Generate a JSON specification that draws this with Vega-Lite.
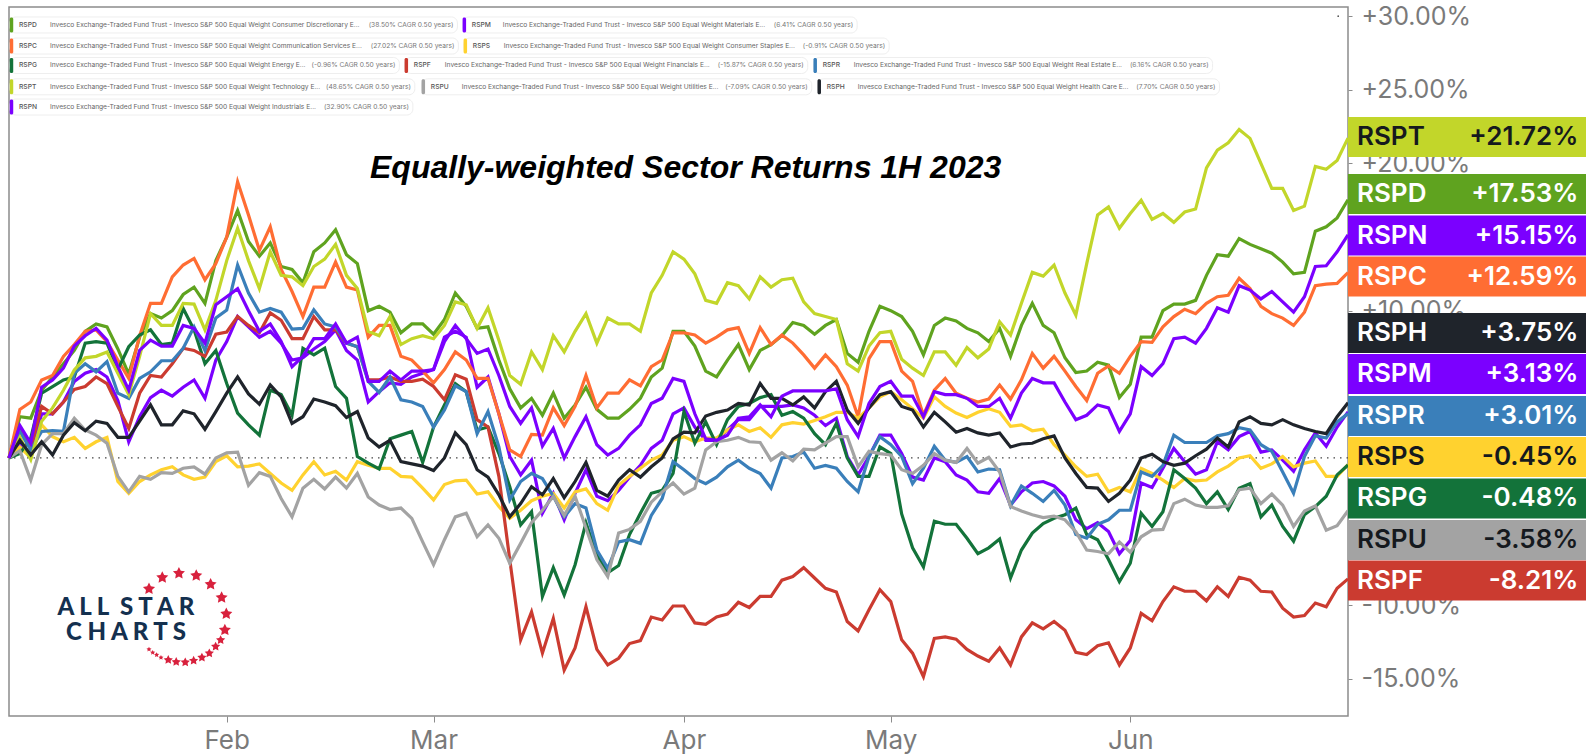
{"$schema":"https://vega.github.io/schema/vega-lite/v6.json","width":1339,"height":709,"autosize":{"type":"none"},"padding":{"left":9,"top":7,"right":238,"bottom":38},"background":"white","config":{"view":{"stroke":"#8c8c8c","strokeWidth":1.5},"font":"Inter"},
"title":{"text":"Equally-weighted Sector Returns 1H 2023","font":"Liberation Sans","fontWeight":"bold","fontStyle":"italic","fontSize":32,"color":"#000000","anchor":"start","frame":"group","baseline":"alphabetic","offset":-206,"dx":361},
"datasets":{
"series":[
{"day":0,"RSPD":0,"RSPM":0,"RSPC":0,"RSPS":0,"RSPG":0,"RSPF":0,"RSPR":0,"RSPT":0,"RSPU":0,"RSPH":0,"RSPN":0},
{"day":1,"RSPD":2.8,"RSPM":1.0,"RSPC":3.3,"RSPS":0.75,"RSPG":0.3,"RSPF":2.1,"RSPR":1.8,"RSPT":1.4,"RSPU":0.5,"RSPH":1.2,"RSPN":2.2},
{"day":2,"RSPD":2.7,"RSPM":0.2,"RSPC":3.8,"RSPS":0,"RSPG":1.35,"RSPF":0.75,"RSPR":0.55,"RSPT":-0.1,"RSPU":-1.5,"RSPH":0.2,"RSPN":1.0},
{"day":3,"RSPD":4.6,"RSPM":3.0,"RSPC":5.3,"RSPS":2.25,"RSPG":4.4,"RSPF":3.5,"RSPR":1.8,"RSPT":2.5,"RSPU":0.9,"RSPH":1.1,"RSPN":4.8},
{"day":4,"RSPD":5.5,"RSPM":3.0,"RSPC":5.6,"RSPS":1.45,"RSPG":4.85,"RSPF":3.0,"RSPR":1.85,"RSPT":3.4,"RSPU":1.65,"RSPH":0.2,"RSPN":5.3},
{"day":5,"RSPD":6.4,"RSPM":3.8,"RSPC":6.9,"RSPS":1.1,"RSPG":5.3,"RSPF":3.8,"RSPR":1.8,"RSPT":4.6,"RSPU":1.65,"RSPH":1.55,"RSPN":6.1},
{"day":6,"RSPD":7.3,"RSPM":5.2,"RSPC":7.7,"RSPS":1.4,"RSPG":5.5,"RSPF":4.65,"RSPR":5.75,"RSPT":5.97,"RSPU":2.7,"RSPH":2.4,"RSPN":7.6},
{"day":7,"RSPD":8.6,"RSPM":5.75,"RSPC":8.6,"RSPS":0.65,"RSPG":7.8,"RSPF":4.85,"RSPR":6.4,"RSPT":6.8,"RSPU":1.9,"RSPH":1.85,"RSPN":8.3},
{"day":8,"RSPD":9.1,"RSPM":6.0,"RSPC":8.7,"RSPS":1.1,"RSPG":7.9,"RSPF":5.5,"RSPR":5.85,"RSPT":6.9,"RSPU":1.55,"RSPH":2.5,"RSPN":8.8},
{"day":9,"RSPD":8.9,"RSPM":5.5,"RSPC":7.9,"RSPS":1.4,"RSPG":7.8,"RSPF":5.05,"RSPR":6.55,"RSPT":7.2,"RSPU":1.0,"RSPH":2.35,"RSPN":8.0},
{"day":10,"RSPD":7.4,"RSPM":3.9,"RSPC":6.65,"RSPS":-1.6,"RSPG":6.0,"RSPF":3.5,"RSPR":4.4,"RSPT":5.75,"RSPU":-1.25,"RSPH":1.4,"RSPN":6.2},
{"day":11,"RSPD":5.7,"RSPM":1.1,"RSPC":5.4,"RSPS":-2.4,"RSPG":7.55,"RSPF":2.0,"RSPR":4.05,"RSPT":4.3,"RSPU":-2.3,"RSPH":1.4,"RSPN":4.6},
{"day":12,"RSPD":8.2,"RSPM":2.8,"RSPC":8.3,"RSPS":-1.6,"RSPG":8.35,"RSPF":4.4,"RSPR":5.4,"RSPT":6.9,"RSPU":-1.25,"RSPH":2.5,"RSPN":7.3},
{"day":13,"RSPD":9.8,"RSPM":4.1,"RSPC":10.5,"RSPS":-1.15,"RSPG":8.7,"RSPF":5.6,"RSPR":5.85,"RSPT":9.8,"RSPU":-1.45,"RSPH":3.6,"RSPN":8.0},
{"day":14,"RSPD":9.5,"RSPM":4.6,"RSPC":10.5,"RSPS":-0.8,"RSPG":7.7,"RSPF":5.5,"RSPR":6.6,"RSPT":9.0,"RSPU":-1.0,"RSPH":2.25,"RSPN":7.6},
{"day":15,"RSPD":10.0,"RSPM":4.2,"RSPC":12.3,"RSPS":-0.6,"RSPG":7.8,"RSPF":6.4,"RSPR":6.6,"RSPT":9.0,"RSPU":-1.05,"RSPH":2.25,"RSPN":7.6},
{"day":16,"RSPD":11.1,"RSPM":4.8,"RSPC":13.1,"RSPS":-1.15,"RSPG":10.15,"RSPF":7.45,"RSPR":7.45,"RSPT":10.5,"RSPU":-0.7,"RSPH":3.2,"RSPN":9.0},
{"day":17,"RSPD":11.6,"RSPM":5.3,"RSPC":13.55,"RSPS":-1.45,"RSPG":8.7,"RSPF":7.3,"RSPR":8.9,"RSPT":10.45,"RSPU":-0.6,"RSPH":3.0,"RSPN":8.8},
{"day":18,"RSPD":10.5,"RSPM":4.05,"RSPC":12.1,"RSPS":-1.3,"RSPG":6.4,"RSPF":6.9,"RSPR":7.3,"RSPT":8.7,"RSPU":-1.1,"RSPH":1.95,"RSPN":7.8},
{"day":19,"RSPD":13.4,"RSPM":6.65,"RSPC":13.2,"RSPS":-0.25,"RSPG":7.3,"RSPF":8.4,"RSPR":9.5,"RSPT":10.7,"RSPU":0,"RSPH":3.15,"RSPN":10.4},
{"day":20,"RSPD":15.0,"RSPM":7.9,"RSPC":15.0,"RSPS":0.15,"RSPG":5.05,"RSPF":8.55,"RSPR":10.05,"RSPT":13.4,"RSPU":0.35,"RSPH":4.4,"RSPN":10.95},
{"day":21,"RSPD":16.8,"RSPM":9.6,"RSPC":18.75,"RSPS":-0.6,"RSPG":3.05,"RSPF":9.6,"RSPR":13.1,"RSPT":15.6,"RSPU":0.4,"RSPH":5.5,"RSPN":11.5},
{"day":22,"RSPD":14.7,"RSPM":8.9,"RSPC":16.5,"RSPS":-0.55,"RSPG":2.25,"RSPF":9.0,"RSPR":11.2,"RSPT":13.4,"RSPU":-1.85,"RSPH":4.35,"RSPN":10.0},
{"day":23,"RSPD":13.7,"RSPM":8.2,"RSPC":14.1,"RSPS":-0.4,"RSPG":1.55,"RSPF":8.5,"RSPR":9.9,"RSPT":11.5,"RSPU":-1.0,"RSPH":3.65,"RSPN":8.6},
{"day":24,"RSPD":14.6,"RSPM":8.6,"RSPC":15.7,"RSPS":-1.05,"RSPG":4.6,"RSPF":9.85,"RSPR":10.15,"RSPT":14.0,"RSPU":-1.25,"RSPH":4.95,"RSPN":9.1},
{"day":25,"RSPD":13.0,"RSPM":7.8,"RSPC":12.8,"RSPS":-1.7,"RSPG":4.3,"RSPF":9.35,"RSPR":9.9,"RSPT":12.4,"RSPU":-2.75,"RSPH":4.15,"RSPN":7.9},
{"day":26,"RSPD":12.8,"RSPM":6.65,"RSPC":11.3,"RSPS":-2.2,"RSPG":2.9,"RSPF":8.1,"RSPR":8.75,"RSPT":12.3,"RSPU":-4.0,"RSPH":2.35,"RSPN":6.2},
{"day":27,"RSPD":11.9,"RSPM":6.8,"RSPC":9.6,"RSPS":-1.15,"RSPG":7.45,"RSPF":8.1,"RSPR":8.8,"RSPT":11.7,"RSPU":-2.05,"RSPH":2.8,"RSPN":6.9},
{"day":28,"RSPD":14.0,"RSPM":7.4,"RSPC":11.6,"RSPS":-0.25,"RSPG":7.0,"RSPF":9.6,"RSPR":10.05,"RSPT":13.0,"RSPU":-1.45,"RSPH":4.0,"RSPN":8.1},
{"day":29,"RSPD":14.6,"RSPM":7.9,"RSPC":11.6,"RSPS":-1.15,"RSPG":7.45,"RSPF":8.7,"RSPR":9.1,"RSPT":13.5,"RSPU":-2.1,"RSPH":3.8,"RSPN":8.1},
{"day":30,"RSPD":15.5,"RSPM":8.7,"RSPC":13.3,"RSPS":-0.9,"RSPG":4.85,"RSPF":8.7,"RSPR":8.9,"RSPT":14.5,"RSPU":-1.3,"RSPH":3.55,"RSPN":9.1},
{"day":31,"RSPD":13.8,"RSPM":7.3,"RSPC":11.6,"RSPS":-1.5,"RSPG":4.05,"RSPF":7.8,"RSPR":7.8,"RSPT":12.4,"RSPU":-2.05,"RSPH":2.75,"RSPN":7.8},
{"day":32,"RSPD":13.2,"RSPM":6.65,"RSPC":11.4,"RSPS":-0.25,"RSPG":0.1,"RSPF":7.55,"RSPR":7.55,"RSPT":11.5,"RSPU":-1.05,"RSPH":3.15,"RSPN":8.2},
{"day":33,"RSPD":10.0,"RSPM":3.8,"RSPC":8.2,"RSPS":-0.5,"RSPG":-0.35,"RSPF":5.3,"RSPR":5.2,"RSPT":8.6,"RSPU":-2.65,"RSPH":1.35,"RSPN":5.2},
{"day":34,"RSPD":10.3,"RSPM":4.5,"RSPC":9.0,"RSPS":-0.7,"RSPG":-0.75,"RSPF":5.3,"RSPR":4.45,"RSPT":8.3,"RSPU":-3.2,"RSPH":0.75,"RSPN":5.2},
{"day":35,"RSPD":9.9,"RSPM":5.1,"RSPC":9.0,"RSPS":-0.7,"RSPG":1.3,"RSPF":5.5,"RSPR":5.5,"RSPT":9.6,"RSPU":-3.5,"RSPH":1.2,"RSPN":5.9},
{"day":36,"RSPD":8.5,"RSPM":5.0,"RSPC":6.9,"RSPS":-1.25,"RSPG":1.55,"RSPF":5.2,"RSPR":3.95,"RSPT":7.7,"RSPU":-3.4,"RSPH":-0.25,"RSPN":5.3},
{"day":37,"RSPD":9.1,"RSPM":5.5,"RSPC":6.65,"RSPS":-1.3,"RSPG":1.8,"RSPF":5.2,"RSPR":3.8,"RSPT":8.1,"RSPU":-4.1,"RSPH":-0.4,"RSPN":5.9},
{"day":38,"RSPD":9.1,"RSPM":5.75,"RSPC":5.9,"RSPS":-2.05,"RSPG":-0.3,"RSPF":5.35,"RSPR":3.5,"RSPT":8.3,"RSPU":-5.7,"RSPH":-0.55,"RSPN":5.9},
{"day":39,"RSPD":8.4,"RSPM":6.0,"RSPC":5.1,"RSPS":-2.85,"RSPG":2.1,"RSPF":4.85,"RSPR":2.1,"RSPT":8.1,"RSPU":-7.25,"RSPH":-0.85,"RSPN":6.0},
{"day":40,"RSPD":9.4,"RSPM":8.2,"RSPC":6.0,"RSPS":-1.8,"RSPG":3.6,"RSPF":3.95,"RSPR":3.25,"RSPT":9.0,"RSPU":-5.55,"RSPH":0,"RSPN":7.9},
{"day":41,"RSPD":11.2,"RSPM":8.6,"RSPC":7.2,"RSPS":-1.55,"RSPG":5.05,"RSPF":5.65,"RSPR":4.9,"RSPT":10.6,"RSPU":-4.0,"RSPH":1.7,"RSPN":9.0},
{"day":42,"RSPD":10.3,"RSPM":8.2,"RSPC":6.65,"RSPS":-1.5,"RSPG":4.5,"RSPF":5.35,"RSPR":4.5,"RSPT":10.4,"RSPU":-3.75,"RSPH":0.9,"RSPN":8.1},
{"day":43,"RSPD":8.8,"RSPM":4.8,"RSPC":5.4,"RSPS":-2.45,"RSPG":1.9,"RSPF":2.6,"RSPR":1.65,"RSPT":8.8,"RSPU":-5.35,"RSPH":-0.8,"RSPN":7.1},
{"day":44,"RSPD":8.9,"RSPM":5.5,"RSPC":5.4,"RSPS":-2.3,"RSPG":2.1,"RSPF":2.1,"RSPR":3.15,"RSPT":10.2,"RSPU":-4.55,"RSPH":-1.3,"RSPN":7.4},
{"day":45,"RSPD":6.65,"RSPM":3.0,"RSPC":3.0,"RSPS":-3.3,"RSPG":0.3,"RSPF":-1.25,"RSPR":0.75,"RSPT":8.0,"RSPU":-5.45,"RSPH":-2.5,"RSPN":5.6},
{"day":46,"RSPD":4.7,"RSPM":0.1,"RSPC":0.55,"RSPS":-4.1,"RSPG":-1.95,"RSPF":-6.9,"RSPR":-2.85,"RSPT":5.6,"RSPU":-7.15,"RSPH":-4.0,"RSPN":3.5},
{"day":47,"RSPD":3.4,"RSPM":-1.15,"RSPC":0.1,"RSPS":-3.55,"RSPG":-4.55,"RSPF":-12.35,"RSPR":-1.6,"RSPT":5.0,"RSPU":-5.8,"RSPH":-3.1,"RSPN":2.35},
{"day":48,"RSPD":4.05,"RSPM":-0.15,"RSPC":1.6,"RSPS":-2.9,"RSPG":-3.65,"RSPF":-10.45,"RSPR":-1.05,"RSPT":7.2,"RSPU":-4.4,"RSPH":-1.95,"RSPN":3.4},
{"day":49,"RSPD":2.9,"RSPM":-3.75,"RSPC":1.55,"RSPS":-2.6,"RSPG":-9.4,"RSPF":-13.25,"RSPR":-1.4,"RSPT":6.0,"RSPU":-3.55,"RSPH":-2.5,"RSPN":0.8},
{"day":50,"RSPD":4.4,"RSPM":-2.4,"RSPC":3.4,"RSPS":-2.4,"RSPG":-7.45,"RSPF":-10.9,"RSPR":-2.6,"RSPT":8.3,"RSPU":-2.6,"RSPH":-1.4,"RSPN":2.0},
{"day":51,"RSPD":2.7,"RSPM":-4.2,"RSPC":2.2,"RSPS":-3.4,"RSPG":-9.3,"RSPF":-14.4,"RSPR":-4.0,"RSPT":7.2,"RSPU":-3.9,"RSPH":-2.7,"RSPN":0},
{"day":52,"RSPD":3.6,"RSPM":-2.4,"RSPC":3.5,"RSPS":-2.3,"RSPG":-7.25,"RSPF":-12.9,"RSPR":-3.1,"RSPT":8.6,"RSPU":-2.6,"RSPH":-1.6,"RSPN":1.45},
{"day":53,"RSPD":4.8,"RSPM":-0.8,"RSPC":5.6,"RSPS":-2.1,"RSPG":-4.4,"RSPF":-10.1,"RSPR":-3.4,"RSPT":9.8,"RSPU":-4.75,"RSPH":-0.3,"RSPN":2.8},
{"day":54,"RSPD":3.3,"RSPM":-2.6,"RSPC":3.4,"RSPS":-3.1,"RSPG":-6.6,"RSPF":-13.0,"RSPR":-6.25,"RSPT":7.8,"RSPU":-6.9,"RSPH":-2.2,"RSPN":0.9},
{"day":55,"RSPD":2.7,"RSPM":-2.9,"RSPC":4.4,"RSPS":-3.55,"RSPG":-7.8,"RSPF":-14.05,"RSPR":-7.5,"RSPT":9.5,"RSPU":-8.05,"RSPH":-2.6,"RSPN":0.2},
{"day":56,"RSPD":2.7,"RSPM":-2.2,"RSPC":4.4,"RSPS":-1.85,"RSPG":-7.3,"RSPF":-13.6,"RSPR":-5.7,"RSPT":9.1,"RSPU":-5.1,"RSPH":-1.5,"RSPN":0.65},
{"day":57,"RSPD":3.3,"RSPM":-1.3,"RSPC":5.3,"RSPS":-1.25,"RSPG":-5.2,"RSPF":-12.6,"RSPR":-5.55,"RSPT":9.1,"RSPU":-4.85,"RSPH":-0.8,"RSPN":1.55},
{"day":58,"RSPD":4.05,"RSPM":-0.5,"RSPC":4.9,"RSPS":-0.7,"RSPG":-3.75,"RSPF":-12.4,"RSPR":-5.8,"RSPT":8.6,"RSPU":-4.3,"RSPH":-1.3,"RSPN":2.25},
{"day":59,"RSPD":5.5,"RSPM":0.65,"RSPC":6.2,"RSPS":-0.15,"RSPG":-2.4,"RSPF":-10.8,"RSPR":-3.9,"RSPT":11.2,"RSPU":-3.0,"RSPH":-0.6,"RSPN":3.7},
{"day":60,"RSPD":6.1,"RSPM":1.2,"RSPC":6.65,"RSPS":0.2,"RSPG":-2.2,"RSPF":-11.0,"RSPR":-2.75,"RSPT":12.4,"RSPU":-2.3,"RSPH":0,"RSPN":4.05},
{"day":61,"RSPD":8.6,"RSPM":3.0,"RSPC":8.5,"RSPS":1.2,"RSPG":-1.05,"RSPF":-10.05,"RSPR":-0.25,"RSPT":14.0,"RSPU":-1.7,"RSPH":1.3,"RSPN":5.4},
{"day":62,"RSPD":8.6,"RSPM":3.4,"RSPC":8.5,"RSPS":1.45,"RSPG":3.15,"RSPF":-10.05,"RSPR":-0.8,"RSPT":13.5,"RSPU":-2.45,"RSPH":1.75,"RSPN":5.2},
{"day":63,"RSPD":7.6,"RSPM":2.1,"RSPC":8.35,"RSPS":1.1,"RSPG":1.0,"RSPF":-11.2,"RSPR":-1.4,"RSPT":12.5,"RSPU":-2.05,"RSPH":1.7,"RSPN":3.0},
{"day":64,"RSPD":5.9,"RSPM":1.2,"RSPC":7.8,"RSPS":1.35,"RSPG":2.45,"RSPF":-11.3,"RSPR":-1.75,"RSPT":10.7,"RSPU":0.55,"RSPH":2.85,"RSPN":1.3},
{"day":65,"RSPD":5.5,"RSPM":1.2,"RSPC":8.2,"RSPS":1.35,"RSPG":0.9,"RSPF":-10.8,"RSPR":-1.3,"RSPT":10.5,"RSPU":1.1,"RSPH":3.1,"RSPN":1.2},
{"day":66,"RSPD":6.65,"RSPM":1.9,"RSPC":8.7,"RSPS":1.9,"RSPG":2.6,"RSPF":-10.6,"RSPR":-0.6,"RSPT":11.9,"RSPU":1.2,"RSPH":3.25,"RSPN":1.55},
{"day":67,"RSPD":7.7,"RSPM":2.6,"RSPC":8.85,"RSPS":2.25,"RSPG":3.5,"RSPF":-9.8,"RSPR":-0.15,"RSPT":11.7,"RSPU":1.4,"RSPH":3.7,"RSPN":2.7},
{"day":68,"RSPD":6.0,"RSPM":2.6,"RSPC":7.1,"RSPS":1.8,"RSPG":3.7,"RSPF":-10.15,"RSPR":-0.7,"RSPT":10.8,"RSPU":1.1,"RSPH":3.6,"RSPN":2.8},
{"day":69,"RSPD":7.3,"RSPM":3.5,"RSPC":8.85,"RSPS":2.05,"RSPG":4.1,"RSPF":-9.4,"RSPR":-1.05,"RSPT":12.3,"RSPU":1.05,"RSPH":5.05,"RSPN":3.6},
{"day":70,"RSPD":7.7,"RSPM":3.5,"RSPC":7.7,"RSPS":1.4,"RSPG":4.3,"RSPF":-9.4,"RSPR":-2.05,"RSPT":11.6,"RSPU":-0.15,"RSPH":4.05,"RSPN":2.8},
{"day":71,"RSPD":8.3,"RSPM":3.5,"RSPC":8.35,"RSPS":2.25,"RSPG":2.9,"RSPF":-8.3,"RSPR":0,"RSPT":12.1,"RSPU":0.35,"RSPH":4.05,"RSPN":4.2},
{"day":72,"RSPD":9.2,"RSPM":3.6,"RSPC":7.8,"RSPS":2.4,"RSPG":3.15,"RSPF":-8.05,"RSPR":0.1,"RSPT":12.2,"RSPU":-0.2,"RSPH":3.6,"RSPN":4.55},
{"day":73,"RSPD":9.0,"RSPM":3.4,"RSPC":7.0,"RSPS":2.3,"RSPG":2.7,"RSPF":-7.45,"RSPR":0.4,"RSPT":10.6,"RSPU":0.6,"RSPH":4.15,"RSPN":4.55},
{"day":74,"RSPD":8.4,"RSPM":2.9,"RSPC":6.1,"RSPS":2.55,"RSPG":1.65,"RSPF":-8.15,"RSPR":-0.7,"RSPT":9.8,"RSPU":0.55,"RSPH":3.4,"RSPN":4.55},
{"day":75,"RSPD":9.0,"RSPM":2.2,"RSPC":7.0,"RSPS":2.8,"RSPG":0.9,"RSPF":-8.85,"RSPR":-0.5,"RSPT":9.6,"RSPU":1.0,"RSPH":4.5,"RSPN":4.55},
{"day":76,"RSPD":9.4,"RSPM":2.7,"RSPC":6.2,"RSPS":3.1,"RSPG":2.35,"RSPF":-9.1,"RSPR":-0.7,"RSPT":9.4,"RSPU":1.45,"RSPH":5.2,"RSPN":4.7},
{"day":77,"RSPD":7.1,"RSPM":0.1,"RSPC":4.95,"RSPS":3.1,"RSPG":0,"RSPF":-11.1,"RSPR":-1.6,"RSPT":6.4,"RSPU":1.45,"RSPH":3.25,"RSPN":2.6},
{"day":78,"RSPD":6.5,"RSPM":-1.15,"RSPC":2.8,"RSPS":2.7,"RSPG":-1.25,"RSPF":-11.75,"RSPR":-2.3,"RSPT":5.9,"RSPU":-0.6,"RSPH":2.35,"RSPN":1.45},
{"day":79,"RSPD":8.6,"RSPM":0.1,"RSPC":6.75,"RSPS":3.4,"RSPG":-1.25,"RSPF":-10.3,"RSPR":0.1,"RSPT":7.6,"RSPU":0.45,"RSPH":3.4,"RSPN":3.7},
{"day":80,"RSPD":10.3,"RSPM":1.55,"RSPC":7.9,"RSPS":4.15,"RSPG":0.75,"RSPF":-8.95,"RSPR":1.45,"RSPT":8.5,"RSPU":0.3,"RSPH":4.3,"RSPN":4.85},
{"day":81,"RSPD":10.0,"RSPM":1.55,"RSPC":7.9,"RSPS":4.5,"RSPG":0.3,"RSPF":-9.75,"RSPR":0.9,"RSPT":8.6,"RSPU":0.2,"RSPH":4.5,"RSPN":5.2},
{"day":82,"RSPD":9.6,"RSPM":0.3,"RSPC":5.9,"RSPS":3.95,"RSPG":-3.8,"RSPF":-12.35,"RSPR":0.1,"RSPT":6.7,"RSPU":-0.8,"RSPH":3.5,"RSPN":4.2},
{"day":83,"RSPD":8.6,"RSPM":-1.3,"RSPC":5.2,"RSPS":3.35,"RSPG":-6.1,"RSPF":-13.25,"RSPR":-1.75,"RSPT":6.1,"RSPU":-1.05,"RSPH":3.25,"RSPN":4.2},
{"day":84,"RSPD":7.0,"RSPM":-1.5,"RSPC":2.9,"RSPS":2.7,"RSPG":-7.4,"RSPF":-14.85,"RSPR":-0.7,"RSPT":5.6,"RSPU":-0.5,"RSPH":2.1,"RSPN":2.8},
{"day":85,"RSPD":9.0,"RSPM":0,"RSPC":4.6,"RSPS":4.15,"RSPG":-4.3,"RSPF":-12.25,"RSPR":0.8,"RSPT":7.2,"RSPU":0.3,"RSPH":3.1,"RSPN":4.5},
{"day":86,"RSPD":9.5,"RSPM":-0.25,"RSPC":5.4,"RSPS":3.5,"RSPG":-4.5,"RSPF":-12.15,"RSPR":-0.15,"RSPT":7.2,"RSPU":-0.15,"RSPH":2.45,"RSPN":4.3},
{"day":87,"RSPD":9.3,"RSPM":-1.15,"RSPC":4.4,"RSPS":3.05,"RSPG":-4.5,"RSPF":-12.3,"RSPR":-0.3,"RSPT":6.3,"RSPU":-0.3,"RSPH":1.75,"RSPN":4.3},
{"day":88,"RSPD":8.8,"RSPM":-1.5,"RSPC":4.05,"RSPS":2.75,"RSPG":-5.45,"RSPF":-13.0,"RSPR":0.1,"RSPT":7.5,"RSPU":0.65,"RSPH":2.0,"RSPN":4.05},
{"day":89,"RSPD":8.5,"RSPM":-2.3,"RSPC":3.8,"RSPS":3.1,"RSPG":-6.5,"RSPF":-13.45,"RSPR":-0.95,"RSPT":6.8,"RSPU":-0.35,"RSPH":1.7,"RSPN":3.5},
{"day":90,"RSPD":7.9,"RSPM":-2.4,"RSPC":4.0,"RSPS":3.35,"RSPG":-6.1,"RSPF":-13.8,"RSPR":-0.75,"RSPT":7.4,"RSPU":0.05,"RSPH":1.55,"RSPN":3.5},
{"day":91,"RSPD":8.8,"RSPM":-1.4,"RSPC":4.95,"RSPS":3.1,"RSPG":-5.5,"RSPF":-12.9,"RSPR":-0.8,"RSPT":9.25,"RSPU":-0.95,"RSPH":1.7,"RSPN":4.05},
{"day":92,"RSPD":6.9,"RSPM":-3.2,"RSPC":4.0,"RSPS":2.15,"RSPG":-8.15,"RSPF":-14.05,"RSPR":-3.25,"RSPT":8.35,"RSPU":-3.3,"RSPH":0.75,"RSPN":2.7},
{"day":93,"RSPD":9.0,"RSPM":-2.3,"RSPC":5.3,"RSPS":2.25,"RSPG":-6.25,"RSPF":-12.15,"RSPR":-1.9,"RSPT":10.5,"RSPU":-3.6,"RSPH":0.95,"RSPN":4.4},
{"day":94,"RSPD":10.5,"RSPM":-1.7,"RSPC":7.1,"RSPS":1.85,"RSPG":-5.1,"RSPF":-11.2,"RSPR":-2.4,"RSPT":12.6,"RSPU":-3.85,"RSPH":1.0,"RSPN":5.4},
{"day":95,"RSPD":9.0,"RSPM":-1.6,"RSPC":6.1,"RSPS":1.95,"RSPG":-4.45,"RSPF":-11.6,"RSPR":-2.95,"RSPT":12.35,"RSPU":-4.05,"RSPH":1.3,"RSPN":5.1},
{"day":96,"RSPD":8.5,"RSPM":-1.9,"RSPC":6.9,"RSPS":0.9,"RSPG":-4.1,"RSPF":-11.1,"RSPR":-2.2,"RSPT":13.1,"RSPU":-3.95,"RSPH":1.5,"RSPN":5.1},
{"day":97,"RSPD":6.8,"RSPM":-2.6,"RSPC":5.9,"RSPS":0.2,"RSPG":-3.85,"RSPF":-11.7,"RSPR":-3.2,"RSPT":11.2,"RSPU":-4.2,"RSPH":0,"RSPN":3.8},
{"day":98,"RSPD":5.8,"RSPM":-4.2,"RSPC":4.85,"RSPS":-0.6,"RSPG":-3.4,"RSPF":-13.2,"RSPR":-5.2,"RSPT":9.7,"RSPU":-5.0,"RSPH":-1.05,"RSPN":2.6},
{"day":99,"RSPD":5.9,"RSPM":-4.8,"RSPC":3.9,"RSPS":-1.25,"RSPG":-5.2,"RSPF":-13.35,"RSPR":-5.45,"RSPT":13.2,"RSPU":-6.25,"RSPH":-2.0,"RSPN":2.9},
{"day":100,"RSPD":6.5,"RSPM":-4.4,"RSPC":5.75,"RSPS":-1.1,"RSPG":-5.55,"RSPF":-12.75,"RSPR":-4.5,"RSPT":16.5,"RSPU":-6.35,"RSPH":-2.05,"RSPN":3.6},
{"day":101,"RSPD":6.3,"RSPM":-5.0,"RSPC":6.25,"RSPS":-2.3,"RSPG":-6.9,"RSPF":-12.55,"RSPR":-4.2,"RSPT":17.05,"RSPU":-6.5,"RSPH":-2.95,"RSPN":3.4},
{"day":102,"RSPD":4.1,"RSPM":-6.5,"RSPC":5.75,"RSPS":-2.0,"RSPG":-8.4,"RSPF":-14.05,"RSPR":-3.55,"RSPT":15.6,"RSPU":-5.7,"RSPH":-2.4,"RSPN":1.8},
{"day":103,"RSPD":5.0,"RSPM":-5.6,"RSPC":6.9,"RSPS":-2.3,"RSPG":-7.15,"RSPF":-12.9,"RSPR":-3.55,"RSPT":16.6,"RSPU":-6.4,"RSPH":-1.5,"RSPN":3.0},
{"day":104,"RSPD":8.2,"RSPM":-1.7,"RSPC":7.9,"RSPS":-0.7,"RSPG":-3.75,"RSPF":-10.55,"RSPR":-0.95,"RSPT":17.5,"RSPU":-5.35,"RSPH":0,"RSPN":6.2},
{"day":105,"RSPD":8.2,"RSPM":-2.0,"RSPC":7.85,"RSPS":-1.05,"RSPG":-4.65,"RSPF":-11.05,"RSPR":-1.25,"RSPT":16.2,"RSPU":-4.9,"RSPH":0.25,"RSPN":5.6},
{"day":106,"RSPD":10.0,"RSPM":-0.7,"RSPC":8.9,"RSPS":-1.5,"RSPG":-3.65,"RSPF":-9.75,"RSPR":-0.5,"RSPT":16.6,"RSPU":-4.85,"RSPH":-0.25,"RSPN":6.4},
{"day":107,"RSPD":10.45,"RSPM":0.65,"RSPC":9.6,"RSPS":-2.0,"RSPG":-0.8,"RSPF":-8.75,"RSPR":1.55,"RSPT":16.0,"RSPU":-3.1,"RSPH":-0.5,"RSPN":8.1},
{"day":108,"RSPD":10.45,"RSPM":-0.25,"RSPC":10.1,"RSPS":-1.4,"RSPG":-1.4,"RSPF":-9.05,"RSPR":1.05,"RSPT":16.7,"RSPU":-2.8,"RSPH":-0.35,"RSPN":8.2},
{"day":109,"RSPD":10.7,"RSPM":-1.1,"RSPC":9.8,"RSPS":-1.55,"RSPG":-2.05,"RSPF":-9.05,"RSPR":1.05,"RSPT":16.9,"RSPU":-3.2,"RSPH":0.15,"RSPN":7.8},
{"day":110,"RSPD":12.4,"RSPM":-0.8,"RSPC":10.5,"RSPS":-1.5,"RSPG":-3.1,"RSPF":-9.7,"RSPR":1.05,"RSPT":19.7,"RSPU":-3.35,"RSPH":0.6,"RSPN":8.8},
{"day":111,"RSPD":13.8,"RSPM":1.1,"RSPC":10.95,"RSPS":-0.95,"RSPG":-2.3,"RSPF":-8.75,"RSPR":1.5,"RSPT":20.9,"RSPU":-3.35,"RSPH":1.35,"RSPN":10.2},
{"day":112,"RSPD":13.7,"RSPM":0.55,"RSPC":11.05,"RSPS":-0.55,"RSPG":-3.5,"RSPF":-9.4,"RSPR":1.65,"RSPT":21.4,"RSPU":-3.25,"RSPH":0.75,"RSPN":9.9},
{"day":113,"RSPD":14.9,"RSPM":1.45,"RSPC":12.2,"RSPS":0,"RSPG":-2.05,"RSPF":-8.1,"RSPR":2.05,"RSPT":22.3,"RSPU":-2.15,"RSPH":2.45,"RSPN":11.7},
{"day":114,"RSPD":14.5,"RSPM":1.8,"RSPC":11.5,"RSPS":0.15,"RSPG":-1.75,"RSPF":-8.3,"RSPR":1.9,"RSPT":21.7,"RSPU":-2.05,"RSPH":2.8,"RSPN":11.4},
{"day":115,"RSPD":14.2,"RSPM":0.4,"RSPC":10.3,"RSPS":-0.7,"RSPG":-4.0,"RSPF":-9.05,"RSPR":0.9,"RSPT":20.0,"RSPU":-3.1,"RSPH":2.35,"RSPN":10.8},
{"day":116,"RSPD":13.9,"RSPM":0.55,"RSPC":9.8,"RSPS":-0.4,"RSPG":-3.2,"RSPF":-9.1,"RSPR":0.45,"RSPT":18.3,"RSPU":-2.45,"RSPH":2.25,"RSPN":11.3},
{"day":117,"RSPD":13.3,"RSPM":-0.15,"RSPC":9.5,"RSPS":0.1,"RSPG":-4.65,"RSPF":-10.2,"RSPR":-0.95,"RSPT":18.3,"RSPU":-3.2,"RSPH":2.6,"RSPN":10.6},
{"day":118,"RSPD":12.5,"RSPM":-0.9,"RSPC":9.0,"RSPS":-0.6,"RSPG":-5.65,"RSPF":-10.8,"RSPR":-2.4,"RSPT":16.8,"RSPU":-4.65,"RSPH":2.25,"RSPN":9.9},
{"day":119,"RSPD":12.6,"RSPM":0.55,"RSPC":9.9,"RSPS":-0.35,"RSPG":-3.85,"RSPF":-10.7,"RSPR":0.1,"RSPT":17.1,"RSPU":-3.6,"RSPH":2.0,"RSPN":10.95},
{"day":120,"RSPD":15.4,"RSPM":1.7,"RSPC":11.7,"RSPS":-0.2,"RSPG":-3.3,"RSPF":-9.85,"RSPR":1.5,"RSPT":19.8,"RSPU":-3.25,"RSPH":1.8,"RSPN":13.0},
{"day":121,"RSPD":15.7,"RSPM":0.8,"RSPC":11.8,"RSPS":-1.25,"RSPG":-2.6,"RSPF":-10.1,"RSPR":1.35,"RSPT":19.6,"RSPU":-4.9,"RSPH":1.65,"RSPN":13.05},
{"day":122,"RSPD":16.3,"RSPM":2.1,"RSPC":11.85,"RSPS":-1.25,"RSPG":-1.15,"RSPF":-8.85,"RSPR":2.45,"RSPT":20.2,"RSPU":-4.6,"RSPH":2.8,"RSPN":14.0},
{"day":123,"RSPD":17.53,"RSPM":3.13,"RSPC":12.59,"RSPS":-0.45,"RSPG":-0.48,"RSPF":-8.21,"RSPR":3.01,"RSPT":21.72,"RSPU":-3.58,"RSPH":3.75,"RSPN":15.15}
],
"tags":[
{"ticker":"RSPT","label":"+21.72%","slot":21.79},
{"ticker":"RSPD","label":"+17.53%","slot":17.92},
{"ticker":"RSPN","label":"+15.15%","slot":15.1},
{"ticker":"RSPC","label":"+12.59%","slot":12.32},
{"ticker":"RSPH","label":"+3.75%","slot":8.49},
{"ticker":"RSPM","label":"+3.13%","slot":5.7},
{"ticker":"RSPR","label":"+3.01%","slot":2.85},
{"ticker":"RSPS","label":"-0.45%","slot":0.07},
{"ticker":"RSPG","label":"-0.48%","slot":-2.75},
{"ticker":"RSPU","label":"-3.58%","slot":-5.57},
{"ticker":"RSPF","label":"-8.21%","slot":-8.32}
],
"chips":[
{"ticker":"RSPD","name":"Invesco Exchange-Traded Fund Trust - Invesco S&P 500 Equal Weight Consumer Discretionary E...","cagr":"(38.50% CAGR 0.50 years)","level":29.4,"start":0.09,"end":41.19},
{"ticker":"RSPM","name":"Invesco Exchange-Traded Fund Trust - Invesco S&P 500 Equal Weight Materials E...","cagr":"(6.41% CAGR 0.50 years)","level":29.4,"start":41.69,"end":77.91},
{"ticker":"RSPC","name":"Invesco Exchange-Traded Fund Trust - Invesco S&P 500 Equal Weight Communication Services E...","cagr":"(27.02% CAGR 0.50 years)","level":27.97,"start":0.09,"end":41.28},
{"ticker":"RSPS","name":"Invesco Exchange-Traded Fund Trust - Invesco S&P 500 Equal Weight Consumer Staples E...","cagr":"(-0.91% CAGR 0.50 years)","level":27.97,"start":41.78,"end":80.85},
{"ticker":"RSPG","name":"Invesco Exchange-Traded Fund Trust - Invesco S&P 500 Equal Weight Energy E...","cagr":"(-0.96% CAGR 0.50 years)","level":26.65,"start":0.09,"end":35.86},
{"ticker":"RSPF","name":"Invesco Exchange-Traded Fund Trust - Invesco S&P 500 Equal Weight Financials E...","cagr":"(-15.87% CAGR 0.50 years)","level":26.65,"start":36.36,"end":73.37},
{"ticker":"RSPR","name":"Invesco Exchange-Traded Fund Trust - Invesco S&P 500 Equal Weight Real Estate E...","cagr":"(6.16% CAGR 0.50 years)","level":26.65,"start":73.92,"end":110.56},
{"ticker":"RSPT","name":"Invesco Exchange-Traded Fund Trust - Invesco S&P 500 Equal Weight Technology E...","cagr":"(48.65% CAGR 0.50 years)","level":25.2,"start":0.09,"end":37.28},
{"ticker":"RSPU","name":"Invesco Exchange-Traded Fund Trust - Invesco S&P 500 Equal Weight Utilities E...","cagr":"(-7.09% CAGR 0.50 years)","level":25.2,"start":37.92,"end":73.74},
{"ticker":"RSPH","name":"Invesco Exchange-Traded Fund Trust - Invesco S&P 500 Equal Weight Health Care E...","cagr":"(7.70% CAGR 0.50 years)","level":25.2,"start":74.29,"end":111.2},
{"ticker":"RSPN","name":"Invesco Exchange-Traded Fund Trust - Invesco S&P 500 Equal Weight Industrials E...","cagr":"(32.90% CAGR 0.50 years)","level":23.83,"start":0.09,"end":37.1}
],
"stars":[
{"day":12.86,"level":-8.89,"tier":"big"},{"day":14.08,"level":-8.12,"tier":"big"},{"day":15.61,"level":-7.83,"tier":"big"},{"day":17.2,"level":-7.99,"tier":"big"},{"day":18.52,"level":-8.58,"tier":"big"},{"day":19.53,"level":-9.48,"tier":"big"},{"day":19.96,"level":-10.59,"tier":"big"},{"day":19.83,"level":-11.68,"tier":"big"},
{"day":19.44,"level":-12.36,"tier":"mid"},{"day":18.98,"level":-12.8,"tier":"mid"},{"day":18.4,"level":-13.26,"tier":"mid"},{"day":17.72,"level":-13.55,"tier":"mid"},{"day":16.96,"level":-13.76,"tier":"mid"},{"day":16.19,"level":-13.87,"tier":"mid"},{"day":15.36,"level":-13.85,"tier":"mid"},{"day":14.63,"level":-13.71,"tier":"mid"},
{"day":13.96,"level":-13.55,"tier":"tiny"},{"day":13.56,"level":-13.37,"tier":"tiny"},{"day":13.2,"level":-13.21,"tier":"tiny"},{"day":12.86,"level":-12.99,"tier":"tiny"}
],
"logo":[{"label":"A L L\u00a0\u00a0S T A R","day":10.74,"level":-10.18},{"label":"C H A R T S","day":10.74,"level":-11.88}]
},
"layer":[
{"data":{"values":[{"level":0}]},"mark":{"type":"rule","stroke":"#444444","strokeWidth":1.2,"strokeDash":[1.5,5]},"encoding":{"y":{"field":"level","type":"quantitative","title":null}}},
{"data":{"name":"series"},"transform":[{"fold":["RSPD","RSPM","RSPC","RSPS","RSPG","RSPF","RSPR","RSPT","RSPU","RSPH","RSPN"],"as":["ticker","ret"]}],
"mark":{"type":"line","strokeWidth":3.2,"strokeJoin":"miter","strokeMiterLimit":6},
"encoding":{
"x":{"field":"day","type":"quantitative","title":null,"scale":{"domain":[0,123],"nice":false,"zero":false,"padding":0},"axis":{"values":[20,39,62,81,103],"labelExpr":"datum.value==20?'Feb':datum.value==39?'Mar':datum.value==62?'Apr':datum.value==81?'May':'Jun'","grid":false,"domain":false,"ticks":true,"tickColor":"#8c8c8c","tickSize":6,"labelFont":"Inter","labelFontSize":26,"labelColor":"#7a7a7a","labelPadding":5,"labelFlush":false,"labelOverlap":false}},
"y":{"field":"ret","type":"quantitative","title":null,"scale":{"domain":[-17.52,30.62],"nice":false,"zero":false,"padding":0},"axis":{"orient":"right","values":[-15,-10,-5,0,5,10,15,20,25,30],"labelExpr":"(datum.value<0?'-':'+')+format(abs(datum.value),'.2f')+'%'","grid":false,"domain":false,"tickColor":"#8c8c8c","tickSize":4,"labelFont":"Inter","labelFontSize":25,"labelColor":"#7a7a7a","labelPadding":9,"labelOverlap":false,"labelFlush":false}},
"color":{"field":"ticker","type":"nominal","legend":null,"scale":{"domain":["RSPD","RSPM","RSPC","RSPS","RSPG","RSPF","RSPR","RSPT","RSPU","RSPH","RSPN"],"range":["#5fa31f","#7b00ff","#ff6d33","#ffd22f","#13733a","#cb3b30","#3a7fba","#c2d62a","#a3a3a3","#1f242b","#7b00ff"]}}
}},
{"data":{"name":"tags"},"mark":{"type":"bar","orient":"horizontal","size":40,"clip":false},"encoding":{"y":{"field":"slot","type":"quantitative","title":null},"x":{"datum":123,"type":"quantitative","title":null},"x2":{"datum":144.9},"color":{"field":"ticker","type":"nominal","legend":null}}},
{"data":{"name":"tags"},"mark":{"type":"text","align":"left","dx":9,"font":"Inter","fontSize":26,"fontWeight":600},"encoding":{"y":{"field":"slot","type":"quantitative","title":null},"x":{"datum":123,"type":"quantitative","title":null},"text":{"field":"ticker"},"color":{"condition":{"test":"indexof(['RSPT','RSPS','RSPU'],datum.ticker)>=0","value":"#15191e"},"value":"#ffffff"}}},
{"data":{"name":"tags"},"mark":{"type":"text","align":"right","dx":-8,"font":"Inter","fontSize":26,"fontWeight":600},"encoding":{"y":{"field":"slot","type":"quantitative","title":null},"x":{"datum":144.9,"type":"quantitative","title":null},"text":{"field":"label"},"color":{"condition":{"test":"indexof(['RSPT','RSPS','RSPU'],datum.ticker)>=0","value":"#15191e"},"value":"#ffffff"}}},
{"data":{"name":"chips"},"mark":{"type":"bar","orient":"horizontal","size":16,"cornerRadius":6,"fill":"#ffffff","stroke":"#eeeeee","strokeWidth":1},"encoding":{"y":{"field":"level","type":"quantitative","title":null},"x":{"field":"start","type":"quantitative","title":null},"x2":{"field":"end"}}},
{"data":{"name":"chips"},"mark":{"type":"tick","orient":"vertical","size":15,"thickness":3.5,"cornerRadius":1.5,"opacity":1,"xOffset":1.5},"encoding":{"y":{"field":"level","type":"quantitative","title":null},"x":{"field":"start","type":"quantitative","title":null},"color":{"field":"ticker","type":"nominal","legend":null}}},
{"data":{"name":"chips"},"mark":{"type":"text","align":"left","dx":9,"font":"Inter","fontSize":6.7,"fontWeight":500,"fill":"#555555"},"encoding":{"y":{"field":"level","type":"quantitative","title":null},"x":{"field":"start","type":"quantitative","title":null},"text":{"field":"ticker"}}},
{"data":{"name":"chips"},"mark":{"type":"text","align":"left","dx":40,"font":"Inter","fontSize":6.65,"fill":"#666666"},"encoding":{"y":{"field":"level","type":"quantitative","title":null},"x":{"field":"start","type":"quantitative","title":null},"text":{"field":"name"}}},
{"data":{"name":"chips"},"mark":{"type":"text","align":"right","dx":-4,"font":"Inter","fontSize":6.65,"fill":"#777777"},"encoding":{"y":{"field":"level","type":"quantitative","title":null},"x":{"field":"end","type":"quantitative","title":null},"text":{"field":"cagr"}}},
{"data":{"name":"logo"},"mark":{"type":"text","font":"Lato","fontWeight":900,"fontSize":24,"fill":"#14304f"},"encoding":{"y":{"field":"level","type":"quantitative","title":null},"x":{"field":"day","type":"quantitative","title":null},"text":{"field":"label"}}},
{"data":{"name":"stars"},"mark":{"type":"point","filled":true,"fill":"#d8213d","stroke":null,"opacity":1,"shape":"M0,-1L0.294,-0.405L0.951,-0.309L0.476,0.155L0.588,0.809L0,0.5L-0.588,0.809L-0.476,0.155L-0.951,-0.309L-0.294,-0.405Z"},"encoding":{"y":{"field":"level","type":"quantitative","title":null},"x":{"field":"day","type":"quantitative","title":null},"size":{"field":"tier","type":"nominal","legend":null,"scale":{"domain":["big","mid","tiny"],"range":[160,28,4]}}}},
{"data":{"values":[{"day":122.1,"level":30}]},"mark":{"type":"point","filled":true,"fill":"#555555","size":3,"opacity":1},"encoding":{"y":{"field":"level","type":"quantitative","title":null},"x":{"field":"day","type":"quantitative","title":null}}}
]}
